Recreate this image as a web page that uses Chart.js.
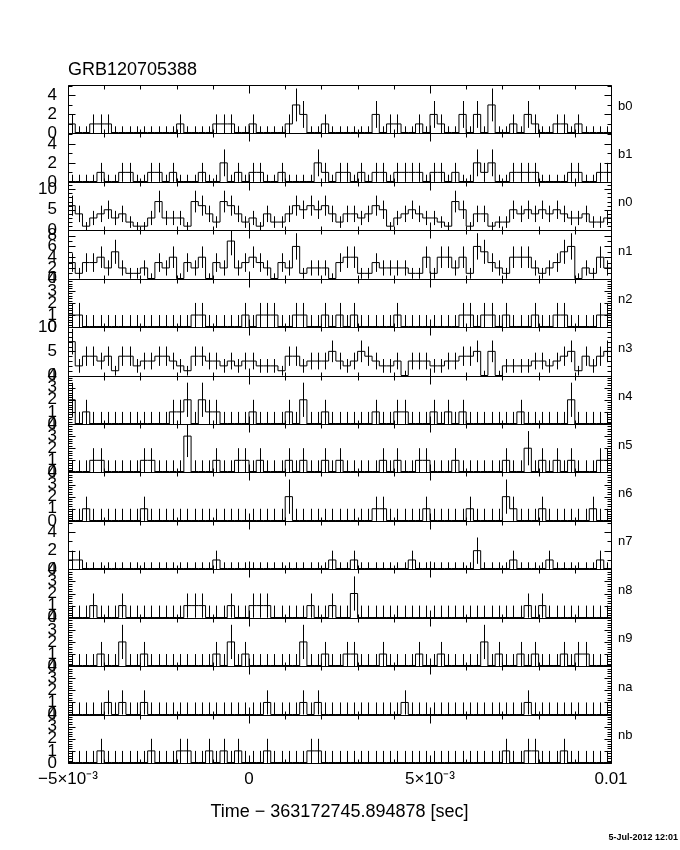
<!DOCTYPE html>
<html>
<head>
<meta charset="utf-8">
<title>GRB120705388</title>
<script src="https://cdn.jsdelivr.net/npm/chart.js@4.4.1/dist/chart.umd.min.js"></script>
<style>
  html, body { margin: 0; padding: 0; background: #fff; }
  #wrap { width: 680px; height: 850px; }
</style>
</head>
<body>
<div id="wrap"><canvas id="myChart" width="680" height="850"></canvas></div>
<script>
// 0.2 ms bins from -5 ms to +10 ms around the trigger
const binStart = -0.005;
const binEnd = 0.01;
const binWidth = 0.0002;
const xTicks = [-0.005, 0, 0.005, 0.01];
const xTickLabels = ['\u22125\u00d710\u207b\u00b3', '0', '5\u00d710\u207b\u00b3', '0.01'];

const detectors = ['b0', 'b1', 'n0', 'n1', 'n2', 'n3', 'n4', 'n5', 'n6', 'n7', 'n8', 'n9', 'na', 'nb'];
const yMax       = [5.1, 5.1, 11.8, 9, 4, 10, 4, 4, 4, 5.2, 4, 4, 4, 4];
const yLabelStep = [2, 2, 5, 2, 1, 5, 1, 1, 1, 2, 1, 1, 1, 1];
const yMinorStep = [1, 1, 1, 1, 0.2, 1, 0.2, 0.2, 0.2, 1, 0.2, 0.2, 0.2, 0.2];
const zeroErr    = [0.75, 0.75, 1, 1, 1, 1, 1, 1, 1, 0.75, 1, 1, 1, 1];

// counts per bin
const b0 = [1,0,0,1,1, 1,0,0,0,0, 0,0,0,0,0, 1,0,0,0,0, 1,1,1,0,0,
            1,0,0,0,0, 1,3,2,0,0, 1,0,0,0,0, 0,0,2,0,1, 1,0,0,1,0,
            2,1,0,0,2, 0,2,0,3,0, 0,1,0,2,1, 0,0,1,1,0, 1,0,0,0,0];
const b1 = [0,0,0,0,1, 0,0,1,1,0, 0,1,1,0,1, 0,0,0,1,0, 0,2,0,1,0,
            1,1,0,0,1, 0,0,0,0,2, 1,0,1,1,0, 1,0,1,1,0, 1,1,1,1,0,
            1,1,0,1,0, 0,2,1,2,0, 0,1,1,1,1, 0,0,0,0,1, 1,0,0,1,1];
const n0 = [6,4,1,3,4, 5,3,4,2,1, 1,3,7,3,3, 3,1,7,6,4, 2,7,6,4,2,
            3,1,4,2,2, 4,6,5,6,5, 6,4,2,4,4, 3,4,6,5,1, 3,4,5,4,3,
            3,2,1,7,5, 1,4,4,1,2, 2,5,4,5,4, 5,4,5,4,3, 3,4,2,2,3];
const n1 = [3,1,3,3,4, 2,5,2,1,1, 2,0,3,2,4, 0,3,2,4,0, 3,2,7,2,3,
            4,3,2,0,3, 2,6,1,2,2, 2,0,3,4,4, 1,1,3,2,2, 2,2,1,1,4,
            1,4,4,2,4, 1,6,5,3,2, 1,4,4,4,2, 1,2,3,5,6, 0,2,1,4,2];
const n2 = [1,1,0,0,0, 0,0,0,0,0, 0,0,0,0,0, 0,0,1,1,0, 0,0,0,0,1,
            0,1,1,1,0, 0,1,1,0,0, 1,0,1,0,1, 0,0,0,0,0, 1,0,0,0,0,
            0,0,0,0,1, 1,0,1,1,0, 1,0,0,0,1, 0,0,1,1,0, 0,0,0,1,1];
const n3 = [7,2,4,4,3, 4,1,4,4,2, 3,3,4,4,3, 2,1,4,4,3, 3,2,3,2,3,
            3,2,2,2,1, 4,4,2,3,3, 3,5,3,2,3, 5,4,3,2,2, 3,0,3,3,3,
            2,2,3,3,4, 4,5,0,5,0, 2,2,2,2,3, 3,2,3,4,5, 1,4,2,4,5];
const n4 = [2,0,1,0,0, 0,0,0,0,0, 0,0,0,0,1, 1,2,0,2,1, 1,0,0,0,0,
            1,0,0,0,0, 1,0,2,0,0, 1,0,0,0,0, 0,0,1,0,0, 1,1,0,0,0,
            1,0,1,0,1, 0,0,0,0,0, 0,0,1,0,0, 0,0,0,0,2, 0,0,0,0,0];
const n5 = [0,0,0,1,1, 0,0,0,0,0, 1,1,0,0,0, 0,3,0,0,0, 1,0,0,1,1,
            0,1,0,0,0, 1,0,1,0,0, 1,0,1,0,0, 0,0,0,1,0, 1,0,0,1,1,
            0,0,0,1,0, 0,0,0,0,0, 1,0,0,2,0, 1,0,1,0,1, 0,0,0,1,1];
const n6 = [0,0,1,0,0, 0,0,0,0,0, 1,0,0,0,0, 0,0,0,0,0, 0,0,0,0,0,
            0,0,0,0,0, 2,0,0,0,0, 0,0,0,0,0, 0,0,1,1,0, 0,0,0,0,1,
            0,0,0,0,0, 1,0,0,0,0, 2,1,0,0,0, 1,0,0,0,0, 0,0,1,0,0];
const n7 = [1,1,0,0,0, 0,0,0,0,0, 0,0,0,0,0, 0,0,0,0,0, 1,0,0,0,0,
            0,0,0,0,0, 0,0,0,0,0, 0,1,0,0,1, 0,0,0,0,0, 0,0,1,0,0,
            0,0,0,0,0, 0,2,0,0,0, 0,1,0,0,0, 0,1,0,0,0, 0,0,0,1,0];
const n8 = [0,0,0,1,0, 0,0,1,0,0, 0,0,0,0,0, 0,1,1,1,0, 0,0,1,0,0,
            1,1,1,0,0, 0,0,0,1,0, 0,1,0,0,2, 0,0,0,0,0, 0,0,0,0,0,
            0,0,0,0,0, 0,0,0,0,0, 0,0,0,1,0, 1,0,0,0,0, 0,0,0,0,0];
const n9 = [0,0,0,0,1, 0,0,2,0,0, 1,0,0,0,0, 0,0,0,0,0, 1,0,2,0,1,
            0,0,0,0,0, 0,0,2,0,0, 1,0,0,1,1, 0,0,0,1,0, 0,0,0,1,0,
            0,1,0,0,0, 0,0,2,0,1, 0,0,1,0,1, 0,0,0,1,0, 1,1,0,0,0];
const na = [0,0,0,0,0, 1,0,1,0,0, 1,0,0,0,0, 0,0,0,0,0, 0,0,0,0,0,
            0,0,1,0,0, 0,0,1,0,1, 0,0,0,0,0, 0,0,0,0,0, 0,1,0,0,0,
            0,0,0,0,0, 0,0,0,0,0, 0,0,0,1,0, 0,0,0,0,0, 0,0,0,0,0];
const nb = [0,0,0,0,1, 0,0,0,0,0, 0,1,0,0,0, 1,1,0,0,1, 0,1,0,1,0,
            0,0,1,0,0, 0,0,0,1,1, 0,0,0,0,0, 0,0,0,0,0, 0,0,0,0,0,
            0,0,0,0,0, 0,0,0,0,0, 1,0,0,1,1, 0,0,0,1,0, 0,0,0,0,0];

const counts = [b0, b1, n0, n1, n2, n3, n4, n5, n6, n7, n8, n9, na, nb];

const FONT = 'Liberation Sans, Arial, sans-serif';

const scales = {
  x: {
    type: 'linear', position: 'bottom', min: binStart, max: binEnd,
    grid: {display: false, drawTicks: false}, border: {display: false},
    afterBuildTicks: s => { s.ticks = xTicks.map(v => ({value: v})); },
    afterFit: s => { s.height = 87; },
    ticks: {autoSkip: false, maxRotation: 0, padding: 6, color: '#000',
      font: {family: FONT, size: 17}, callback: (v, i) => xTickLabels[i]},
    title: {display: true, text: 'Time \u2212 363172745.894878 [sec]', color: '#000',
      font: {family: FONT, size: 18}, padding: {top: 0, bottom: 27}}
  }
};
// stacked panels: the last left axis of a stack ends up on top, so add them bottom first
for (let k = detectors.length - 1; k >= 0; k--) {
  scales['y' + k] = {
    type: 'linear', position: 'left', stack: 'det', stackWeight: 1,
    min: 0, max: yMax[k],
    grid: {display: false, drawTicks: false}, border: {display: false},
    afterBuildTicks: s => {
      const t = [];
      for (let v = 0; v <= yMax[k] + 1e-9; v += yLabelStep[k]) t.push({value: v});
      s.ticks = t;
    },
    afterFit: s => { s.width = 68; },
    ticks: {autoSkip: false, padding: 11, color: '#000', font: {family: FONT, size: 17}}
  };
}

const datasets = detectors.map((name, k) => {
  const pts = counts[k].map((c, i) => ({x: binStart + i * binWidth, y: c}));
  pts.push({x: binEnd, y: counts[k][counts[k].length - 1]});
  return {
    label: name, yAxisID: 'y' + k, data: pts, stepped: 'before',
    borderColor: '#000', borderWidth: 1, pointRadius: 0, fill: false
  };
});

function isMultiple(v, step) {
  const r = v / step;
  return Math.abs(r - Math.round(r)) < 1e-6;
}

const panelFrame = {
  id: 'panelFrame',
  afterDatasetsDraw(chart) {
    const ctx = chart.ctx, area = chart.chartArea, xs = chart.scales.x;
    const left = Math.round(area.left) + 0.5, right = Math.round(area.right) + 0.5;
    ctx.save();
    ctx.strokeStyle = '#000';
    ctx.fillStyle = '#000';
    ctx.lineWidth = 1;
    detectors.forEach((name, k) => {
      const ys = chart.scales['y' + k];
      const top = Math.round(ys.top) + 0.5, bot = Math.round(ys.bottom) + 0.5;
      ctx.beginPath();
      ctx.rect(left, top, right - left, bot - top);
      // y ticks, both sides
      for (let v = 0; v <= yMax[k] + 1e-9; v += yMinorStep[k]) {
        const py = Math.round(ys.getPixelForValue(v)) + 0.5;
        const len = isMultiple(v, yLabelStep[k]) ? 7 : 4;
        ctx.moveTo(left, py); ctx.lineTo(left + len, py);
        ctx.moveTo(right, py); ctx.lineTo(right - len, py);
      }
      // x ticks on the panel edges
      for (let ms = -5; ms <= 10; ms++) {
        const px = Math.round(xs.getPixelForValue(ms / 1000)) + 0.5;
        const len = ms % 5 === 0 ? 8 : 4;
        ctx.moveTo(px, bot); ctx.lineTo(px, bot - len);
        ctx.moveTo(px, top); ctx.lineTo(px, top + len);
      }
      // error bars at bin centres, and the doubled zero level of empty bins
      counts[k].forEach((c, i) => {
        const px = Math.round(xs.getPixelForValue(binStart + (i + 0.5) * binWidth)) + 0.5;
        const lo = c > 0 ? Math.max(0, c - Math.sqrt(c)) : 0;
        const hi = Math.min(yMax[k], c > 0 ? c + Math.sqrt(c) : zeroErr[k]);
        ctx.moveTo(px, ys.getPixelForValue(lo));
        ctx.lineTo(px, ys.getPixelForValue(hi));
        if (c === 0) {
          const x0 = xs.getPixelForValue(binStart + i * binWidth);
          const x1 = xs.getPixelForValue(binStart + (i + 1) * binWidth);
          ctx.moveTo(x0, bot - 1); ctx.lineTo(x1, bot - 1);
        }
      });
      ctx.stroke();
      ctx.font = '13px ' + FONT;
      ctx.textAlign = 'left';
      ctx.textBaseline = 'middle';
      ctx.fillText(name, area.right + 7, ys.top + 21);
    });
    ctx.font = '18px ' + FONT;
    ctx.textAlign = 'left';
    ctx.textBaseline = 'middle';
    ctx.fillText('GRB120705388', area.left, 70);
    ctx.font = 'bold 9px ' + FONT;
    ctx.textAlign = 'right';
    ctx.fillText('5-Jul-2012 12:01', 678, 838);
    ctx.restore();
  }
};

new Chart('myChart', {
  type: 'line',
  data: {datasets: datasets},
  options: {
    responsive: false,
    animation: false,
    devicePixelRatio: 1,
    layout: {padding: {top: 85, right: 69, bottom: 0, left: 0}},
    plugins: {legend: {display: false}, tooltip: {enabled: false}},
    scales: scales
  },
  plugins: [panelFrame]
});
</script>
</body>
</html>
